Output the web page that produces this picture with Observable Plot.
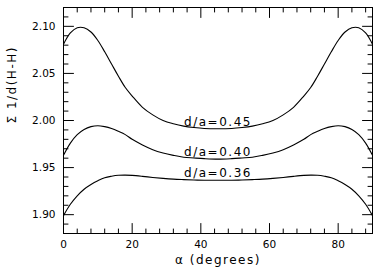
<!DOCTYPE html>
<html>
<head>
<meta charset="utf-8">
<script src="https://cdn.jsdelivr.net/npm/d3@7"></script>
<script src="https://cdn.jsdelivr.net/npm/@observablehq/plot@0.6"></script>
<style>
  html, body { margin: 0; padding: 0; background: white; }
  g[aria-label="text"] text { letter-spacing: 1.5px; }
</style>
</head>
<body>
<div id="chart"></div>
<script>
// α (degrees) sample positions
const alpha = [0, 2, 4, 6, 8, 10, 12, 14, 16, 18, 20, 23, 26, 29, 32, 35, 38, 41, 45,
               49, 52, 55, 58, 61, 64, 67, 70, 72, 74, 76, 78, 80, 82, 84, 86, 88, 90];

// Σ 1/d(H-H) for each d/a
const sum045 = [2.081, 2.093, 2.0985, 2.0985, 2.094, 2.085, 2.073, 2.060, 2.047, 2.035, 2.026, 2.014, 2.006, 2.000, 1.9965, 1.994, 1.9925, 1.9915, 1.9912,
                1.9915, 1.9925, 1.994, 1.9965, 2.000, 2.006, 2.014, 2.026, 2.035, 2.047, 2.060, 2.073, 2.085, 2.094, 2.0985, 2.0985, 2.093, 2.081];
const sum040 = [1.963, 1.976, 1.985, 1.9905, 1.9935, 1.9945, 1.9935, 1.9915, 1.9885, 1.985, 1.980, 1.974, 1.969, 1.9655, 1.963, 1.961, 1.9602, 1.9595, 1.959,
                1.9595, 1.9602, 1.961, 1.963, 1.9655, 1.969, 1.974, 1.980, 1.985, 1.9885, 1.9915, 1.9935, 1.9945, 1.9935, 1.9905, 1.985, 1.976, 1.963];
const sum036 = [1.899, 1.911, 1.920, 1.927, 1.932, 1.936, 1.9392, 1.9408, 1.9418, 1.942, 1.9417, 1.9407, 1.9395, 1.9385, 1.9377, 1.9372, 1.9368, 1.9366, 1.9365,
                1.9366, 1.9368, 1.9372, 1.9377, 1.9385, 1.9395, 1.9407, 1.9417, 1.942, 1.9418, 1.9408, 1.9392, 1.936, 1.932, 1.927, 1.920, 1.911, 1.899];

const seriesLabels = ["d/a=0.45", "d/a=0.40", "d/a=0.36"];
const seriesValues = [sum045, sum040, sum036];
const labelAlpha = 45;

// ticks
const xMajor = [0, 20, 40, 60, 80];
const xMinor = [4, 8, 12, 16, 24, 28, 32, 36, 44, 48, 52, 56, 64, 68, 72, 76, 84, 88];
const yMajor = [1.90, 1.95, 2.00, 2.05, 2.10];
const yMinor = [1.89, 1.91, 1.92, 1.93, 1.94, 1.96, 1.97, 1.98, 1.99, 2.01, 2.02, 2.03, 2.04, 2.06, 2.07, 2.08, 2.09, 2.11];

const xTitle = "α (degrees)";
const yTitle = "Σ 1/d(H-H)";

const rows = seriesLabels.flatMap((label, i) =>
  alpha.map((a, j) => ({series: label, alpha: a, value: seriesValues[i][j]})));
const labelRows = seriesLabels.map((label, i) =>
  ({series: label, alpha: labelAlpha, value: seriesValues[i][alpha.indexOf(labelAlpha)]}));

const tickShape = {draw(context, l) { context.moveTo(0, 0); context.lineTo(0, -l); }};
function ticks(values, channel, anchor, rotate, len) {
  return Plot.vector(values, {
    [channel]: d => d, frameAnchor: anchor, rotate, length: len, anchor: "start",
    shape: tickShape, stroke: "black", strokeWidth: 1
  });
}

const chart = Plot.plot({
  width: 382,
  height: 273,
  marginLeft: 63,
  marginRight: 10,
  marginTop: 7,
  marginBottom: 40,
  style: {fontFamily: "DejaVu Sans", fontSize: "10.5px", background: "white", color: "black"},
  x: {domain: [0, 90]},
  y: {domain: [1.88, 2.12]},
  marks: [
    Plot.frame({stroke: "black", strokeWidth: 1}),
    ticks(xMajor, "x", "bottom", 0, 10),
    ticks(xMinor, "x", "bottom", 0, 4.5),
    ticks(xMajor, "x", "top", 180, 10),
    ticks(xMinor, "x", "top", 180, 4.5),
    ticks(yMajor, "y", "left", 90, 10),
    ticks(yMinor, "y", "left", 90, 4.5),
    ticks(yMajor, "y", "right", -90, 10),
    ticks(yMinor, "y", "right", -90, 4.5),
    Plot.axisX(xMajor, {tickSize: 0, tickPadding: 7, label: null, fontSize: 10.5}),
    Plot.axisY(yMajor, {tickSize: 0, tickPadding: 8, label: null, tickFormat: d3.format(".2f"), fontSize: 10.5}),
    Plot.line(rows, {x: "alpha", y: "value", z: "series", stroke: "black", strokeWidth: 1.1, curve: "catmull-rom"}),
    Plot.text(labelRows, {x: "alpha", y: "value", text: "series", lineAnchor: "bottom", dy: -3, fontSize: 12, fill: "black"}),
    Plot.text([xTitle], {frameAnchor: "bottom", dy: 30, fontSize: 12, fill: "black"}),
    Plot.text([yTitle], {frameAnchor: "left", dx: -51, dy: 3, rotate: -90, fontSize: 12, fill: "black"})
  ]
});
document.getElementById("chart").appendChild(chart);
</script>
</body>
</html>
